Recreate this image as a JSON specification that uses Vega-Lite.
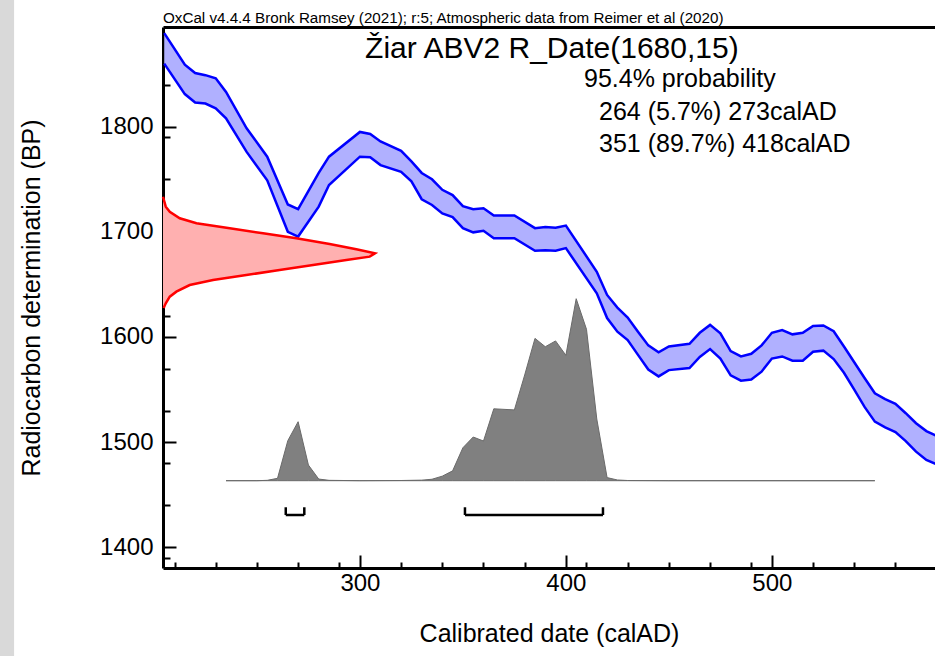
{
  "$schema": "https://vega.github.io/schema/vega-lite/v6.json",
  "width": 772,
  "height": 541,
  "autosize": {"type": "none"},
  "padding": {"left": 163, "top": 27, "right": 0, "bottom": 88},
  "background": "white",
  "config": {
    "view": {"stroke": null},
    "font": "Liberation Sans",
    "axis": {"grid": false, "labelFont": "Liberation Sans", "titleFont": "Liberation Sans", "labelColor": "black", "titleColor": "black", "domainColor": "black", "tickColor": "black", "titleFontWeight": "normal", "labelOverlap": false, "labelFlush": false, "zindex": 1}
  },
  "datasets": {
    "curve": [
      {"yr": 205, "hi": 1889, "lo": 1860},
      {"yr": 215, "hi": 1859, "lo": 1831},
      {"yr": 220, "hi": 1851, "lo": 1823},
      {"yr": 225, "hi": 1849, "lo": 1822},
      {"yr": 230, "hi": 1846, "lo": 1817.5},
      {"yr": 235, "hi": 1833, "lo": 1808},
      {"yr": 245, "hi": 1798.5, "lo": 1776},
      {"yr": 255, "hi": 1771.5, "lo": 1749},
      {"yr": 265, "hi": 1726, "lo": 1700},
      {"yr": 270, "hi": 1721.5, "lo": 1695.5},
      {"yr": 280, "hi": 1756, "lo": 1724},
      {"yr": 285, "hi": 1771.5, "lo": 1744.5},
      {"yr": 300, "hi": 1795, "lo": 1771.5},
      {"yr": 305, "hi": 1793, "lo": 1771},
      {"yr": 310, "hi": 1786, "lo": 1763.5},
      {"yr": 320, "hi": 1777, "lo": 1757},
      {"yr": 325, "hi": 1767, "lo": 1748},
      {"yr": 330, "hi": 1756, "lo": 1731},
      {"yr": 335, "hi": 1750, "lo": 1725.5},
      {"yr": 340, "hi": 1740, "lo": 1717.5},
      {"yr": 345, "hi": 1735, "lo": 1714},
      {"yr": 350, "hi": 1724.5, "lo": 1703.5},
      {"yr": 355, "hi": 1721.5, "lo": 1699.5},
      {"yr": 360, "hi": 1722.5, "lo": 1701},
      {"yr": 365, "hi": 1715.5, "lo": 1694},
      {"yr": 375, "hi": 1715.5, "lo": 1694},
      {"yr": 385, "hi": 1703.5, "lo": 1682},
      {"yr": 390, "hi": 1704.5, "lo": 1682.5},
      {"yr": 395, "hi": 1704, "lo": 1682},
      {"yr": 400, "hi": 1706, "lo": 1684.5},
      {"yr": 415, "hi": 1662, "lo": 1641.5},
      {"yr": 420, "hi": 1640, "lo": 1618},
      {"yr": 425, "hi": 1628, "lo": 1605},
      {"yr": 430, "hi": 1618.5, "lo": 1597},
      {"yr": 435, "hi": 1605, "lo": 1583},
      {"yr": 440, "hi": 1592, "lo": 1569},
      {"yr": 445, "hi": 1585.5, "lo": 1562.5},
      {"yr": 450, "hi": 1591, "lo": 1568.5},
      {"yr": 460, "hi": 1593.5, "lo": 1570.5},
      {"yr": 465, "hi": 1604, "lo": 1581},
      {"yr": 470, "hi": 1611.5, "lo": 1588.5},
      {"yr": 475, "hi": 1603.5, "lo": 1579.5},
      {"yr": 480, "hi": 1586.5, "lo": 1563.5},
      {"yr": 485, "hi": 1581.5, "lo": 1558.5},
      {"yr": 490, "hi": 1584, "lo": 1559.5},
      {"yr": 495, "hi": 1592, "lo": 1567},
      {"yr": 500, "hi": 1604, "lo": 1579.5},
      {"yr": 505, "hi": 1606.5, "lo": 1581.5},
      {"yr": 510, "hi": 1602.5, "lo": 1577.5},
      {"yr": 515, "hi": 1604, "lo": 1577.5},
      {"yr": 520, "hi": 1610.5, "lo": 1586},
      {"yr": 525, "hi": 1611, "lo": 1587},
      {"yr": 530, "hi": 1605.5, "lo": 1579},
      {"yr": 535, "hi": 1591, "lo": 1566},
      {"yr": 540, "hi": 1576, "lo": 1550},
      {"yr": 545, "hi": 1561, "lo": 1533.5},
      {"yr": 550, "hi": 1546.5, "lo": 1519.5},
      {"yr": 555, "hi": 1541, "lo": 1514},
      {"yr": 560, "hi": 1536.5, "lo": 1509.5},
      {"yr": 565, "hi": 1527.5, "lo": 1501},
      {"yr": 570, "hi": 1518, "lo": 1491},
      {"yr": 575, "hi": 1510.5, "lo": 1483},
      {"yr": 580, "hi": 1506, "lo": 1479}
    ],
    "date": [
      {"bp": 1627.5, "d": 0.003},
      {"bp": 1632.1, "d": 0.013},
      {"bp": 1638.3, "d": 0.032},
      {"bp": 1643.1, "d": 0.063},
      {"bp": 1649.4, "d": 0.126},
      {"bp": 1654.2, "d": 0.236},
      {"bp": 1658.9, "d": 0.393},
      {"bp": 1663.7, "d": 0.55},
      {"bp": 1668.4, "d": 0.708},
      {"bp": 1673.2, "d": 0.865},
      {"bp": 1676.4, "d": 0.975},
      {"bp": 1679.5, "d": 1.0},
      {"bp": 1683.4, "d": 0.912},
      {"bp": 1688.4, "d": 0.786},
      {"bp": 1693.8, "d": 0.629},
      {"bp": 1698.6, "d": 0.472},
      {"bp": 1703.4, "d": 0.315},
      {"bp": 1708.1, "d": 0.158},
      {"bp": 1712.9, "d": 0.079},
      {"bp": 1719.1, "d": 0.032},
      {"bp": 1723.9, "d": 0.013},
      {"bp": 1733.4, "d": 0.0}
    ],
    "post": [
      {"yr": 235, "p": 0},
      {"yr": 250, "p": 0},
      {"yr": 255, "p": 0.002},
      {"yr": 260, "p": 0.013},
      {"yr": 265, "p": 0.22},
      {"yr": 270, "p": 0.324},
      {"yr": 275, "p": 0.086},
      {"yr": 280, "p": 0.009},
      {"yr": 285, "p": 0.002},
      {"yr": 300, "p": 0},
      {"yr": 320, "p": 0.001},
      {"yr": 330, "p": 0.003},
      {"yr": 335, "p": 0.008},
      {"yr": 340, "p": 0.025},
      {"yr": 345, "p": 0.054},
      {"yr": 350, "p": 0.181},
      {"yr": 355, "p": 0.24},
      {"yr": 360, "p": 0.218},
      {"yr": 365, "p": 0.395},
      {"yr": 375, "p": 0.389},
      {"yr": 380, "p": 0.581},
      {"yr": 385, "p": 0.782},
      {"yr": 390, "p": 0.736},
      {"yr": 395, "p": 0.768},
      {"yr": 400, "p": 0.689},
      {"yr": 405, "p": 1.0},
      {"yr": 410, "p": 0.832},
      {"yr": 415, "p": 0.339},
      {"yr": 420, "p": 0.017},
      {"yr": 425, "p": 0.004},
      {"yr": 430, "p": 0.001},
      {"yr": 450, "p": 0},
      {"yr": 550, "p": 0}
    ],
    "ranges": [
      {"from": 264, "to": 273},
      {"from": 351, "to": 418}
    ]
  },
  "layer": [
    {
      "layer": [
        {
          "data": {"name": "curve"},
          "mark": {"type": "area", "color": "#b0b0ff", "opacity": 1, "clip": true},
          "encoding": {
            "x": {"field": "yr", "type": "quantitative",
              "scale": {"domain": [204.4, 579.2], "nice": false, "zero": false},
              "axis": {"title": null, "labels": false,
                "values": [210,220,230,240,250,260,270,280,290,310,320,330,340,350,360,370,380,390,410,420,430,440,450,460,470,480,490,510,520,530,540,550,560,570],
                "tickSize": -6, "tickWidth": 2, "domainWidth": 3}},
            "y": {"field": "hi", "type": "quantitative",
              "scale": {"domain": [1380.3, 1894.8], "nice": false, "zero": false},
              "axis": {"title": null, "labels": false,
                "values": [1390,1410,1420,1430,1440,1450,1460,1470,1480,1490,1510,1520,1530,1540,1550,1560,1570,1580,1590,1610,1620,1630,1640,1650,1660,1670,1680,1690,1710,1720,1730,1740,1750,1760,1770,1780,1790,1810,1820,1830,1840,1850,1860,1870,1880,1890],
                "tickSize": -7, "tickWidth": 2, "domainWidth": 3}},
            "y2": {"field": "lo"}
          }
        },
        {
          "data": {"name": "curve"},
          "mark": {"type": "line", "color": "#0000ff", "strokeWidth": 2.5, "clip": true},
          "encoding": {"x": {"field": "yr", "type": "quantitative"}, "y": {"field": "hi", "type": "quantitative"}}
        },
        {
          "data": {"name": "curve"},
          "mark": {"type": "line", "color": "#0000ff", "strokeWidth": 2.5, "clip": true},
          "encoding": {"x": {"field": "yr", "type": "quantitative"}, "y": {"field": "lo", "type": "quantitative"}}
        },
        {
          "data": {"values": [{"t": "OxCal v4.4.4 Bronk Ramsey (2021); r:5; Atmospheric data from Reimer et al (2020)"}]},
          "mark": {"type": "text", "fontSize": 15.2, "font": "Liberation Sans", "align": "left", "baseline": "alphabetic", "color": "black", "clip": false},
          "encoding": {"x": {"datum": 204.4}, "y": {"datum": 1898.6}, "text": {"field": "t"}}
        },
        {
          "data": {"values": [{"t": "Žiar ABV2 R_Date(1680,15)"}]},
          "mark": {"type": "text", "fontSize": 30, "font": "Liberation Sans", "align": "center", "baseline": "alphabetic", "color": "black", "clip": false},
          "encoding": {"x": {"datum": 393.2}, "y": {"datum": 1865.3}, "text": {"field": "t"}}
        },
        {
          "data": {"values": [{"t": "95.4% probability"}]},
          "mark": {"type": "text", "fontSize": 25, "font": "Liberation Sans", "align": "left", "baseline": "alphabetic", "color": "black", "clip": false},
          "encoding": {"x": {"datum": 408.8}, "y": {"datum": 1837.3}, "text": {"field": "t"}}
        },
        {
          "data": {"values": [{"t": "264 (5.7%) 273calAD"}]},
          "mark": {"type": "text", "fontSize": 25, "font": "Liberation Sans", "align": "left", "baseline": "alphabetic", "color": "black", "clip": false},
          "encoding": {"x": {"datum": 416.1}, "y": {"datum": 1806.4}, "text": {"field": "t"}}
        },
        {
          "data": {"values": [{"t": "351 (89.7%) 418calAD"}]},
          "mark": {"type": "text", "fontSize": 25, "font": "Liberation Sans", "align": "left", "baseline": "alphabetic", "color": "black", "clip": false},
          "encoding": {"x": {"datum": 416.1}, "y": {"datum": 1776.2}, "text": {"field": "t"}}
        },
        {
          "data": {"values": [{"t": "page edge"}]},
          "mark": {"type": "rect", "color": "#d9d9d9", "opacity": 1, "clip": false},
          "encoding": {"x": {"datum": 110}, "x2": {"datum": 132.1}, "y": {"datum": 1960}, "y2": {"datum": 1250}}
        }
      ]
    },
    {
      "data": {"name": "date"},
      "encoding": {
        "x": {"field": "d", "type": "quantitative",
          "scale": {"domain": [0, 3.642], "nice": false, "zero": false},
          "axis": {"orient": "top", "labels": false, "ticks": false, "title": null, "domainWidth": 3, "domainColor": "black"}},
        "y": {"field": "bp", "type": "quantitative",
          "scale": {"domain": [1380.3, 1894.8], "nice": false, "zero": false},
          "axis": {"orient": "left", "title": "Radiocarbon determination (BP)", "values": [1400, 1500, 1600, 1700, 1800], "format": "d",
            "domain": false, "tickSize": -13, "tickWidth": 2, "labelFontSize": 24, "labelPadding": 23,
            "titleFontSize": 25, "titlePadding": 55}}
      },
      "layer": [
        {"mark": {"type": "area", "orient": "horizontal", "color": "#ffb0b0", "opacity": 1}, "encoding": {"x2": {"datum": 0}}},
        {"mark": {"type": "line", "color": "#ff0000", "strokeWidth": 2.5}, "encoding": {"order": {"field": "bp", "type": "quantitative"}}}
      ]
    },
    {
      "layer": [
        {
          "data": {"name": "post"},
          "mark": {"type": "area", "color": "#808080", "opacity": 1, "stroke": "#6a6a6a", "strokeWidth": 1},
          "encoding": {
            "x": {"field": "yr", "type": "quantitative", "scale": {"domain": [204.4, 579.2], "nice": false, "zero": false},
              "axis": {"orient": "bottom", "title": "Calibrated date (calAD)", "values": [300, 400, 500], "format": "d",
                "domain": false, "tickSize": -13, "tickWidth": 2, "labelFontSize": 24, "labelPadding": 16,
                "titleFontSize": 25, "titlePadding": 26}},
            "y": {"field": "p", "type": "quantitative", "scale": {"domain": [-0.4797, 2.4929], "nice": false, "zero": false}, "axis": null},
            "y2": {"datum": 0}
          }
        },
        {
          "data": {"name": "ranges"},
          "mark": {"type": "rule", "color": "black", "strokeWidth": 2.5},
          "encoding": {"x": {"field": "from", "type": "quantitative"}, "x2": {"field": "to"}, "y": {"datum": -0.1885}}
        },
        {
          "data": {"name": "ranges"},
          "transform": [{"fold": ["from", "to"], "as": ["end", "yr"]}],
          "mark": {"type": "rule", "color": "black", "strokeWidth": 2.5},
          "encoding": {"x": {"field": "yr", "type": "quantitative"}, "y": {"datum": -0.1885}, "y2": {"datum": -0.146}}
        }
      ]
    }
  ],
  "resolve": {"scale": {"x": "independent", "y": "independent"}, "axis": {"x": "independent", "y": "independent"}}
}
